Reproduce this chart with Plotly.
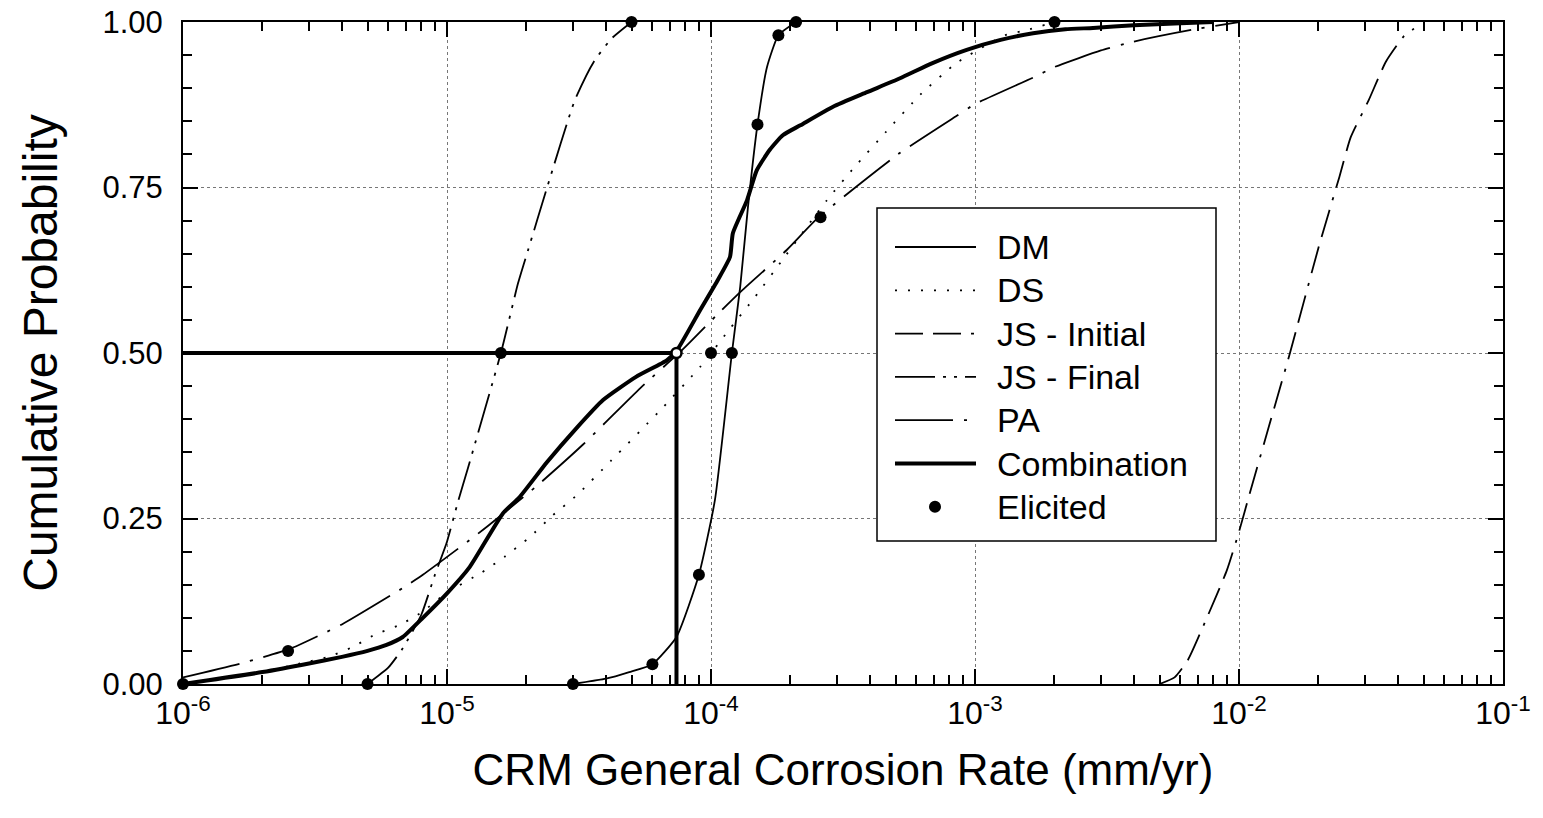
import plotly.graph_objects as go

# ---------------- data ----------------
dm_x = [3.0e-5, 4.0e-5, 4.9e-5, 6.0e-5, 7.4e-5, 9.0e-5, 1.035e-4, 1.2e-4, 1.29e-4,
        1.38e-4, 1.5e-4, 1.63e-4, 1.8e-4, 2.1e-4]
dm_y = [0.0, 0.008, 0.018, 0.03, 0.071, 0.165, 0.278, 0.5, 0.6,
        0.72, 0.845, 0.932, 0.98, 1.0]

ds_x = [1e-6, 2.0e-6, 2.85e-6, 3.55e-6, 4.4e-6, 5.3e-6, 6.6e-6, 8.0e-6, 1.0e-5, 1.36e-5,
        1.65e-5, 2.06e-5, 2.52e-5, 3.1e-5, 4.2e-5, 6.3e-5, 9.1e-5, 1.16e-4, 1.47e-4,
        1.86e-4, 2.75e-4, 3.5e-4, 4.6e-4, 6.2e-4, 8.5e-4, 1.3e-3, 1.58e-3, 2.0e-3]
ds_y = [0.0, 0.018, 0.032, 0.041, 0.056, 0.074, 0.089, 0.108, 0.138, 0.169,
        0.192, 0.222, 0.255, 0.285, 0.338, 0.41, 0.479, 0.533, 0.585,
        0.64, 0.731, 0.781, 0.834, 0.89, 0.938, 0.98, 0.988, 1.0]

jsi_x = [5.0e-3, 5.7e-3, 6.4e-3, 7.5e-3, 9.0e-3, 1.0e-2, 1.1e-2, 1.3e-2, 1.56e-2,
         2.0e-2, 2.4e-2, 2.65e-2, 3.1e-2, 3.6e-2, 4.2e-2, 4.6e-2]
jsi_y = [0.0, 0.01, 0.036, 0.097, 0.172, 0.23, 0.289, 0.39, 0.5,
         0.659, 0.766, 0.826, 0.882, 0.94, 0.978, 0.99]

jsf_x = [5.0e-6, 6.0e-6, 6.8e-6, 8.0e-6, 9.0e-6, 1.0e-5, 1.1e-5, 1.2e-5, 1.6e-5,
         1.86e-5, 2.03e-5, 2.39e-5, 3.05e-5, 3.6e-5, 4.2e-5, 5.0e-5]
jsf_y = [0.0, 0.025, 0.054, 0.105, 0.165, 0.215, 0.275, 0.326, 0.5,
         0.606, 0.656, 0.749, 0.882, 0.94, 0.975, 1.0]

pa_x = [1e-6, 1.69e-6, 2.54e-6, 3.39e-6, 4.04e-6, 6.8e-6, 8.1e-6, 1.37e-5, 2.2e-5,
        3.26e-5, 5.4e-5, 7.8e-5, 1.08e-4, 1.29e-4, 1.94e-4, 2.54e-4, 5.1e-4, 8.5e-4,
        1.0e-3, 1.68e-3, 2.0e-3, 3.0e-3, 3.95e-3, 6.6e-3, 1.0e-2]
pa_y = [0.01, 0.032, 0.053, 0.076, 0.091, 0.145, 0.165, 0.233, 0.30,
        0.361, 0.447, 0.505, 0.562, 0.592, 0.656, 0.704, 0.80, 0.858,
        0.876, 0.917, 0.932, 0.957, 0.97, 0.988, 1.0]

comb_x = [1e-6, 2e-6, 3e-6, 4e-6, 5e-6, 5.9e-6, 6.8e-6, 8.1e-6, 1e-5, 1.22e-5, 1.63e-5,
          1.88e-5, 2.39e-5, 3.1e-5, 3.9e-5, 5.2e-5, 6.8e-5, 7.4e-5, 9.1e-5, 1.06e-4,
          1.18e-4, 1.21e-4, 1.37e-4, 1.49e-4, 1.67e-4, 1.87e-4, 2.18e-4, 2.9e-4, 3.9e-4,
          5.2e-4, 6.9e-4, 9.3e-4, 1.25e-3, 1.66e-3, 2.2e-3, 2.8e-3, 4e-3, 6e-3, 8e-3]
comb_y = [0.0, 0.018, 0.031, 0.041, 0.05, 0.059, 0.071, 0.10, 0.137, 0.177, 0.258,
          0.282, 0.335, 0.387, 0.429, 0.464, 0.489, 0.503, 0.565, 0.61,
          0.645, 0.681, 0.731, 0.776, 0.807, 0.829, 0.844, 0.872, 0.894,
          0.915, 0.938, 0.958, 0.973, 0.983, 0.989, 0.991, 0.995, 0.998, 1.0]

median_x = 7.4e-5
median_y = 0.5

elic_x = [1e-6, 2.5e-6, 5e-6, 1.6e-5, 5e-5, 3e-5, 6e-5, 9e-5, 1.2e-4, 1.5e-4,
          1.8e-4, 2.1e-4, 1e-4, 2.6e-4, 2e-3]
elic_y = [0.0, 0.05, 0.0, 0.5, 1.0, 0.0, 0.03, 0.165, 0.5, 0.845,
          0.98, 1.0, 0.5, 0.705, 1.0]

x_tickvals = [1e-6, 1e-5, 1e-4, 1e-3, 1e-2, 1e-1]
x_ticktext = ["10<sup>-6</sup>", "10<sup>-5</sup>", "10<sup>-4</sup>",
              "10<sup>-3</sup>", "10<sup>-2</sup>", "10<sup>-1</sup>"]
y_tickvals = [0.0, 0.25, 0.5, 0.75, 1.0]
y_ticktext = ["0.00", "0.25", "0.50", "0.75", "1.00"]

legend_names = ["DM", "DS", "JS - Initial", "JS - Final", "PA", "Combination", "Elicited"]

# ---------------- styles ----------------
FONT = "Liberation Sans, Arial, sans-serif"
DASH_DS = "2px,11px"
DASH_JSI = "28px,10px,28px,10px,3px,10px"
DASH_JSF = "40px,8px,3px,8px,3px,8px"
DASH_PA = "58px,11px,3px,11px"
THIN = 1.8
THICK = 4

fig = go.Figure()

def add_line(x, y, dash, width):
    fig.add_trace(go.Scatter(x=x, y=y, mode="lines", showlegend=False,
                             line=dict(color="black", width=width, dash=dash,
                                       shape="spline", smoothing=0.5),
                             hoverinfo="skip"))

add_line(dm_x, dm_y, "solid", THIN)
add_line(ds_x, ds_y, DASH_DS, THIN)
add_line(jsi_x, jsi_y, DASH_JSI, THIN)
add_line(jsf_x, jsf_y, DASH_JSF, THIN)
add_line(pa_x, pa_y, DASH_PA, THIN)
add_line(comb_x, comb_y, "solid", THICK)

# median cross-hair of the combination curve
fig.add_trace(go.Scatter(x=[ds_x[0], median_x, median_x], y=[median_y, median_y, 0.0],
                         mode="lines", showlegend=False,
                         line=dict(color="black", width=THICK), hoverinfo="skip"))

fig.add_trace(go.Scatter(x=elic_x, y=elic_y, mode="markers", showlegend=False,
                         cliponaxis=False,
                         marker=dict(color="black", size=12, line=dict(width=0))))
fig.add_trace(go.Scatter(x=[median_x], y=[median_y], mode="markers", showlegend=False,
                         cliponaxis=False,
                         marker=dict(color="white", size=10,
                                     line=dict(color="black", width=2.5))))

# ---------------- axes ----------------
minor_x = [k * 10.0 ** e for e in range(-6, -1) for k in range(2, 10)]

fig.update_xaxes(type="log", range=[-6, -1], tickmode="array",
                 tickvals=x_tickvals, ticktext=x_ticktext,
                 ticks="inside", ticklen=15, tickwidth=1.5, tickcolor="black",
                 showline=True, linecolor="black", linewidth=2, mirror="ticks",
                 showgrid=True, gridcolor="#777", gridwidth=1, griddash="dot",
                 zeroline=False,
                 minor=dict(tickmode="array", tickvals=minor_x, ticks="inside",
                            ticklen=9, tickwidth=1.5, tickcolor="black", showgrid=False),
                 tickfont=dict(family=FONT, size=32, color="black"),
                 title=dict(text="CRM General Corrosion Rate (mm/yr)",
                            font=dict(family=FONT, size=44, color="black"),
                            standoff=24))

fig.update_yaxes(range=[0, 1], tickmode="array", tickvals=y_tickvals,
                 ticktext=y_ticktext,
                 ticks="inside", ticklen=15, tickwidth=1.5, tickcolor="black",
                 showline=True, linecolor="black", linewidth=2, mirror="ticks",
                 showgrid=True, gridcolor="#777", gridwidth=1, griddash="dot",
                 zeroline=False,
                 minor=dict(dtick=0.05, tick0=0, ticks="inside", ticklen=9,
                            tickwidth=1.5, tickcolor="black", showgrid=False),
                 tickfont=dict(family=FONT, size=31, color="black"),
                 ticklabelstandoff=12,
                 title=dict(text="Cumulative Probability",
                            font=dict(family=FONT, size=48, color="black"),
                            standoff=30))

# ---------------- legend (drawn manually) ----------------
L, R, T, B = 183, 1503, 22, 684
def px(xp):
    return (xp - L) / (R - L)
def py(yp):
    return (B - yp) / (B - T)

shapes = []
annotations = []
shapes.append(dict(type="rect", xref="paper", yref="paper",
                   x0=px(877), x1=px(1216), y0=py(541), y1=py(208),
                   line=dict(color="black", width=1.5), fillcolor="white", layer="above"))
legend_styles = [("solid", THIN), (DASH_DS, THIN), (DASH_JSI, THIN), (DASH_JSF, THIN),
                 (DASH_PA, THIN), ("solid", THICK), None]
for i, name in enumerate(legend_names):
    yrow = 247 + i * 43.3
    st = legend_styles[i]
    if st is not None:
        shapes.append(dict(type="line", xref="paper", yref="paper",
                           x0=px(895), x1=px(976), y0=py(yrow), y1=py(yrow),
                           line=dict(color="black", width=st[1], dash=st[0]),
                           layer="above"))
    else:
        shapes.append(dict(type="circle", xref="paper", yref="paper",
                           xsizemode="pixel", ysizemode="pixel",
                           xanchor=px(935), yanchor=py(yrow),
                           x0=-6, x1=6, y0=-6, y1=6,
                           fillcolor="black", line=dict(color="black", width=0),
                           layer="above"))
    annotations.append(dict(xref="paper", yref="paper", x=px(995), y=py(yrow),
                            text=name, showarrow=False, xanchor="left", yanchor="middle",
                            font=dict(family=FONT, size=34, color="black")))

fig.update_layout(width=1543, height=818,
                  margin=dict(l=183, r=40, t=22, b=134, autoexpand=False),
                  plot_bgcolor="white", paper_bgcolor="white",
                  showlegend=False, shapes=shapes, annotations=annotations,
                  font=dict(family=FONT, color="black"))

fig.write_html("out.html")
